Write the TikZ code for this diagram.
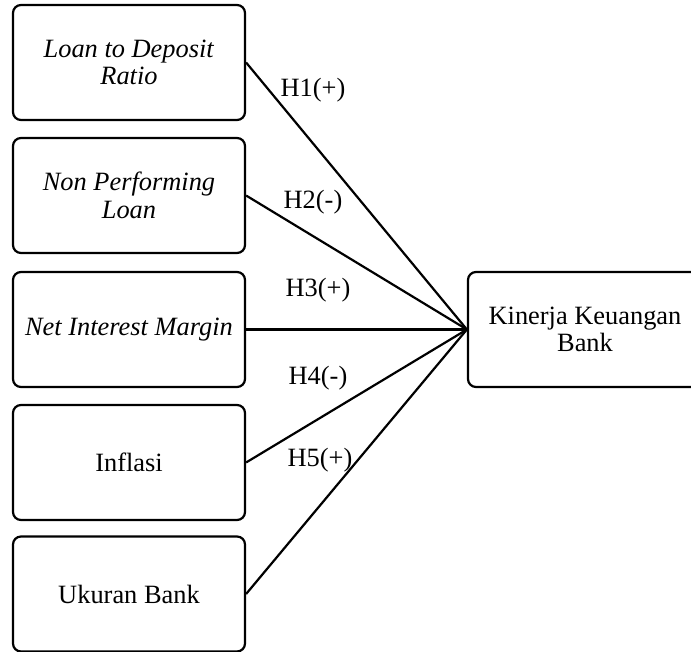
\documentclass[tikz,border=0pt]{standalone}
\usepackage{fontspec}
\setmainfont{Liberation Serif}
\usepackage{tikz}

\begin{document}
\begin{tikzpicture}[
                x=0.5pt, y=-0.5pt,
                var/.style={draw, line width=1.1pt, rounded corners=4pt,
                    minimum width=116pt, minimum height=57.5pt,
                    align=center, font=\fontsize{13.2}{13.8}\selectfont},
                hyp/.style={inner sep=0pt, font=\fontsize{13.2}{13.8}\selectfont},
                link/.style={line width=1.1pt}]
            \useasboundingbox (0,0) rectangle (691,652);
            % variabel independen
            \node[var] (ldr) at (129,62.5) {\textit{Loan to Deposit}\\\textit{Ratio}};
            \node[var] (npl) at (129,195.5) {\textit{Non Performing}\\\textit{Loan}};
            \node[var] (nim) at (129,329.5) {\textit{Net Interest Margin}};
            \node[var] (inf) at (129,462.5) {Inflasi};
            \node[var] (ukb) at (129,594) {Ukuran Bank};
            % variabel dependen
            \node[var, minimum width=124pt] (kkb) at (592,329.5) {};
            \node[align=center, font=\fontsize{13.2}{13.8}\selectfont] (kkbt) at (585,329.5) {Kinerja Keuangan\\Bank};
            % hipotesis
            \node[hyp] (h1) at (313,90) {H1(+)};
            \node[hyp] (h2) at (313,202) {H2(-)};
            \node[hyp] (h3) at (318,290) {H3(+)};
            \node[hyp] (h4) at (318,378) {H4(-)};
            \node[hyp] (h5) at (320,460) {H5(+)};
            \draw[link] (ldr.east) -- (kkb.west);
            \draw[link] (npl.east) -- (kkb.west);
            \draw[link] (nim.east) -- (kkb.west);
            \draw[link] (inf.east) -- (kkb.west);
            \draw[link] (ukb.east) -- (kkb.west);
        \end{tikzpicture}
\end{document}
